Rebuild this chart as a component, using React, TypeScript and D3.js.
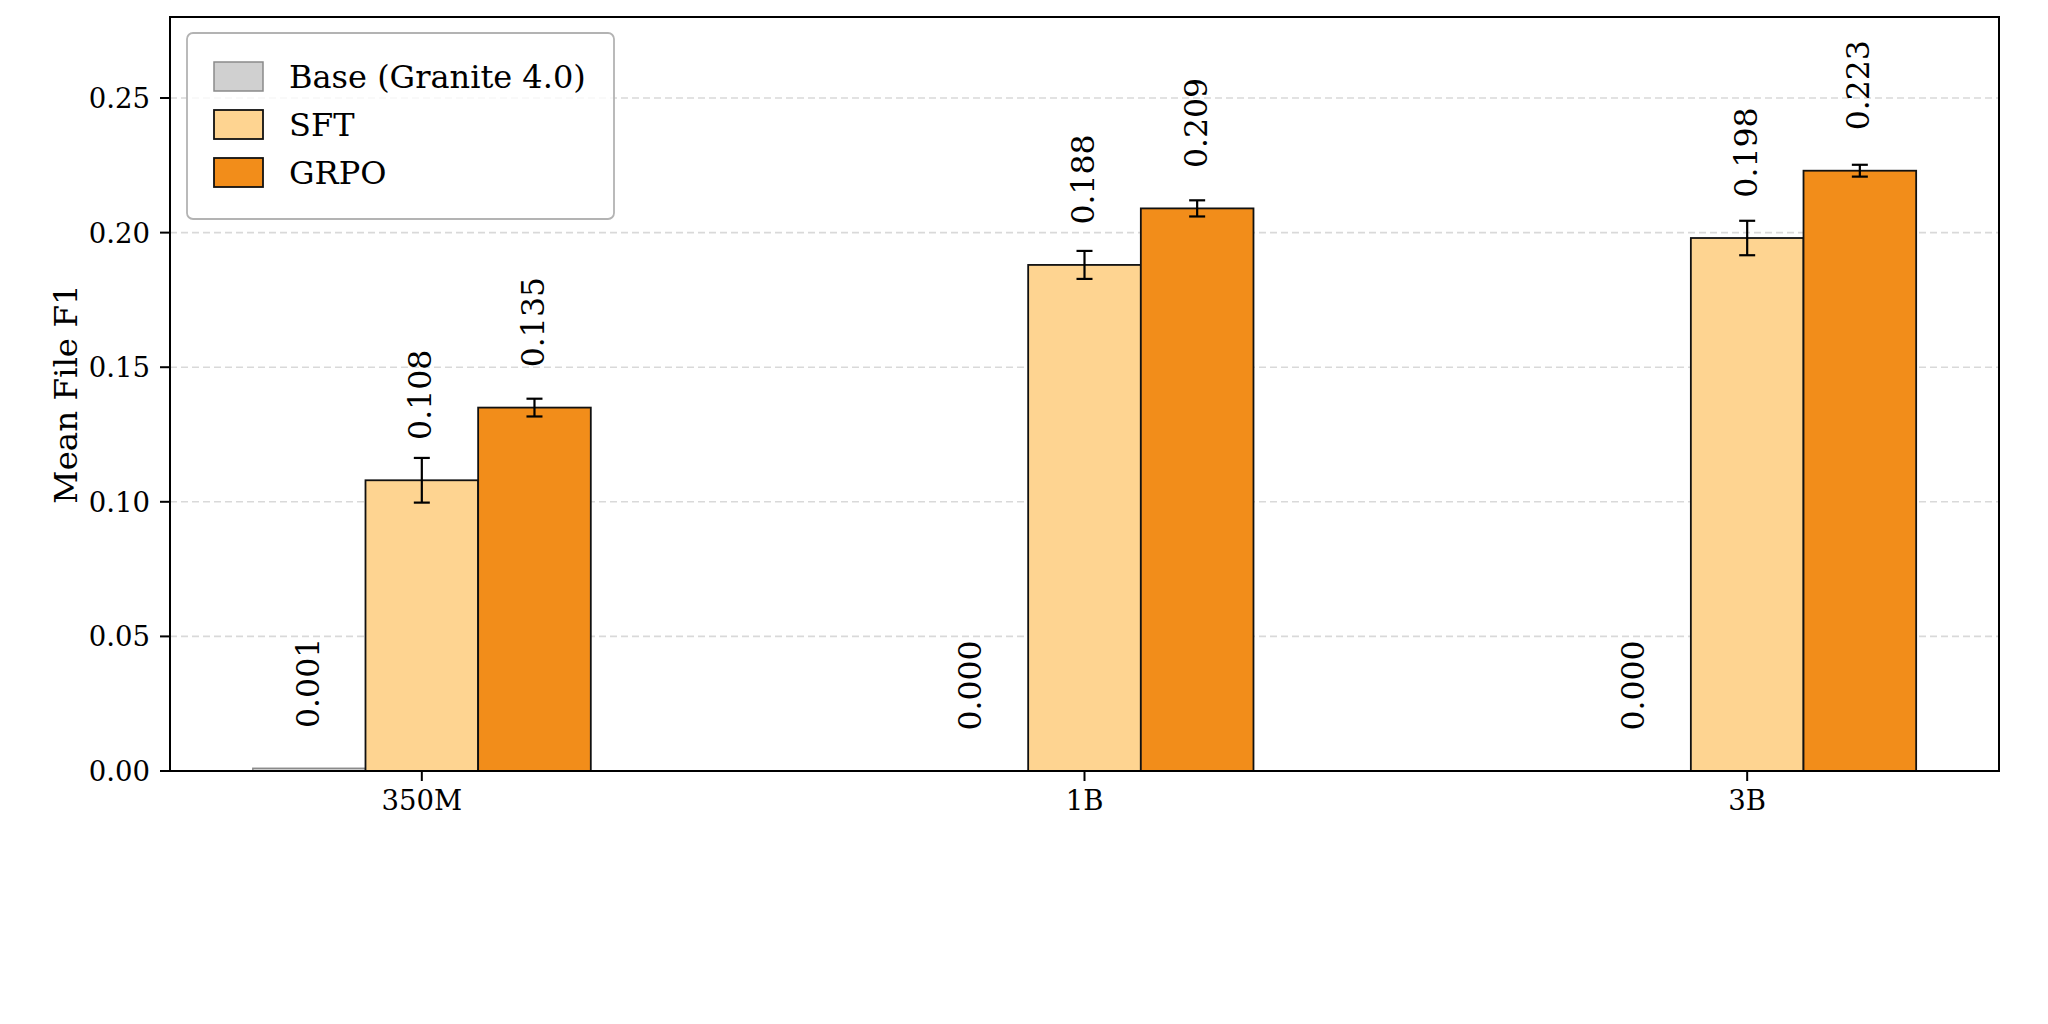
import React, { useRef, useEffect } from "react";
import * as d3 from "d3";

const categories = ["350M", "1B", "3B"];
const seriesNames = ["Base (Granite 4.0)", "SFT", "GRPO"];
const baseValues = [0.001, 0.0, 0.0];
const sftValues = [0.108, 0.188, 0.198];
const sftErrors = [0.0083, 0.0052, 0.0064];
const grpoValues = [0.135, 0.209, 0.223];
const grpoErrors = [0.0033, 0.003, 0.0022];
const yTicks = [0.0, 0.05, 0.1, 0.15, 0.2, 0.25];

const WIDTH = 2048;
const HEIGHT = 1024;
const margin = { top: 17, right: 49, bottom: 253, left: 170 };
const FONT = "'DejaVu Serif', 'Liberation Serif', serif";

const fills = ["#d0d0d0", "#fed491", "#f28d1a"];
const edges = ["#8a8a8a", "#111111", "#111111"];

export const App: React.FC = () => {
  const svgRef = useRef<SVGSVGElement | null>(null);

  useEffect(() => {
    document.body.style.margin = "0";
    if (!svgRef.current) return;

    const svg = d3.select(svgRef.current);
    svg.selectAll("*").remove();

    const x0 = margin.left;
    const x1 = WIDTH - margin.right;
    const y0 = HEIGHT - margin.bottom;
    const y1 = margin.top;

    const barW = 0.17;
    const xScale = d3.scaleLinear().domain([-0.38, 2.38]).range([x0, x1]);
    const yScale = d3.scaleLinear().domain([0, 0.2801]).range([y0, y1]);

    // grid lines behind everything
    svg
      .append("g")
      .selectAll("line")
      .data(yTicks.filter((t) => t > 0))
      .join("line")
      .attr("x1", x0)
      .attr("x2", x1)
      .attr("y1", (d) => yScale(d))
      .attr("y2", (d) => yScale(d))
      .attr("stroke", "#d9d9d9")
      .attr("stroke-width", 1.6)
      .attr("stroke-dasharray", "7,4");

    const series = [
      { values: baseValues, errors: null as number[] | null, offset: -1 },
      { values: sftValues, errors: sftErrors, offset: 0 },
      { values: grpoValues, errors: grpoErrors, offset: 1 },
    ];

    series.forEach((s, si) => {
      const g = svg.append("g");
      s.values.forEach((v, ci) => {
        const cx = xScale(ci + s.offset * barW);
        const left = xScale(ci + s.offset * barW - barW / 2);
        const right = xScale(ci + s.offset * barW + barW / 2);
        g.append("rect")
          .attr("x", left)
          .attr("y", yScale(v))
          .attr("width", right - left)
          .attr("height", yScale(0) - yScale(v))
          .attr("fill", fills[si])
          .attr("stroke", edges[si])
          .attr("stroke-width", si === 0 ? 1.5 : 1.8);

        if (s.errors) {
          const e = s.errors[ci];
          const eg = g.append("g").attr("stroke", "#000").attr("stroke-width", 2.2);
          eg.append("line")
            .attr("x1", cx)
            .attr("x2", cx)
            .attr("y1", yScale(v - e))
            .attr("y2", yScale(v + e));
          [v - e, v + e].forEach((yy) => {
            eg.append("line")
              .attr("x1", cx - 8)
              .attr("x2", cx + 8)
              .attr("y1", yScale(yy))
              .attr("y2", yScale(yy));
          });
        }

        // rotated value label
        const ly = yScale(v + 0.015);
        g.append("text")
          .attr("transform", `translate(${cx},${ly}) rotate(-90)`)
          .attr("dy", "0.3em")
          .attr("font-family", FONT)
          .attr("font-size", 31.5)
          .attr("fill", "#000")
          .text(v.toFixed(3));
      });
    });

    // spines
    svg
      .append("rect")
      .attr("x", x0)
      .attr("y", y1)
      .attr("width", x1 - x0)
      .attr("height", y0 - y1)
      .attr("fill", "none")
      .attr("stroke", "#000")
      .attr("stroke-width", 2);

    // y axis ticks
    const yAxis = svg.append("g");
    yTicks.forEach((t) => {
      yAxis
        .append("line")
        .attr("x1", x0 - 10)
        .attr("x2", x0)
        .attr("y1", yScale(t))
        .attr("y2", yScale(t))
        .attr("stroke", "#000")
        .attr("stroke-width", 2);
      yAxis
        .append("text")
        .attr("x", x0 - 20)
        .attr("y", yScale(t))
        .attr("dy", "0.365em")
        .attr("text-anchor", "end")
        .attr("font-family", FONT)
        .attr("font-size", 27.5)
        .text(t.toFixed(2));
    });

    // x axis ticks
    const xAxis = svg.append("g");
    categories.forEach((c, i) => {
      xAxis
        .append("line")
        .attr("x1", xScale(i))
        .attr("x2", xScale(i))
        .attr("y1", y0)
        .attr("y2", y0 + 10)
        .attr("stroke", "#000")
        .attr("stroke-width", 2);
      xAxis
        .append("text")
        .attr("x", xScale(i))
        .attr("y", y0 + 39)
        .attr("text-anchor", "middle")
        .attr("font-family", FONT)
        .attr("font-size", 27.5)
        .text(c);
    });

    svg
      .append("text")
      .attr("transform", `translate(77,${(y0 + y1) / 2}) rotate(-90)`)
      .attr("text-anchor", "middle")
      .attr("font-family", FONT)
      .attr("font-size", 32.5)
      .text("Mean File F1");

    // legend
    const legend = svg.append("g");
    legend
      .append("rect")
      .attr("x", 187)
      .attr("y", 33)
      .attr("width", 427)
      .attr("height", 186)
      .attr("rx", 6)
      .attr("fill", "#fff")
      .attr("fill-opacity", 0.8)
      .attr("stroke", "#b3b3b3")
      .attr("stroke-width", 1.8);

    seriesNames.forEach((name, i) => {
      const cy = 76.5 + i * 48;
      legend
        .append("rect")
        .attr("x", 214)
        .attr("y", cy - 14.5)
        .attr("width", 49)
        .attr("height", 29)
        .attr("fill", fills[i])
        .attr("stroke", edges[i])
        .attr("stroke-width", i === 0 ? 1.5 : 1.8);
      legend
        .append("text")
        .attr("x", 289)
        .attr("y", cy)
        .attr("dy", "0.365em")
        .attr("font-family", FONT)
        .attr("font-size", 32)
        .text(name);
    });
  }, []);

  return (
    <svg
      ref={svgRef}
      width={WIDTH}
      height={HEIGHT}
      style={{ display: "block", background: "#fff" }}
    />
  );
};

export default App;
